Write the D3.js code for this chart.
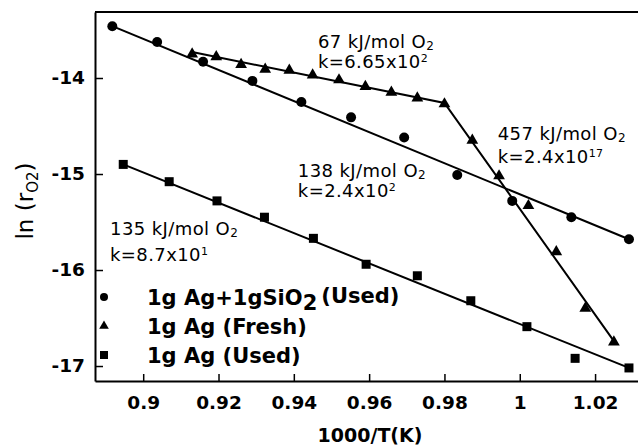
<!DOCTYPE html>
<html>
<head>
<meta charset="utf-8">
<script src="https://cdn.jsdelivr.net/npm/d3@7/dist/d3.min.js"></script>
<style>
  body { margin: 0; background: #fff; }
  svg { display: block; font-family: "DejaVu Sans", sans-serif; }
</style>
</head>
<body>
<svg id="chart" width="638" height="445"></svg>
<script>
// values
const xTicks = [0.9, 0.92, 0.94, 0.96, 0.98, 1, 1.02];
const yTicks = [-14, -15, -16, -17];

const sio2X = [0.8918, 0.9037, 0.9159, 0.929, 0.942, 0.9552, 0.9693, 0.9834, 0.998, 1.0137, 1.029];
const sio2Y = [-13.46, -13.625, -13.83, -14.03, -14.25, -14.41, -14.62, -15.01, -15.28, -15.45, -15.68];

const freshX = [0.913, 0.9194, 0.926, 0.9324, 0.9388, 0.945, 0.952, 0.959, 0.9659, 0.9728, 0.98,
  0.9874, 0.9945, 1.0023, 1.0097, 1.0174, 1.025];
const freshY = [-13.75, -13.78, -13.86, -13.91, -13.92, -13.97, -14.02, -14.09, -14.15, -14.21, -14.27,
  -14.65, -15.02, -15.33, -15.81, -16.40, -16.75];

const usedX = [0.8947, 0.9069, 0.9196, 0.9322, 0.9452, 0.9592, 0.9728, 0.987, 1.0019, 1.0147, 1.029];
const usedY = [-14.90, -15.08, -15.28, -15.45, -15.67, -15.94, -16.06, -16.32, -16.59, -16.92, -17.02];

// fitted lines (end points)
const sio2FitX = [0.8918, 1.029];
const sio2FitY = [-13.46, -15.68];
const freshFitX = [0.913, 0.98, 1.025];
const freshFitY = [-13.73, -14.26, -16.74];
const usedFitX = [0.8947, 1.029];
const usedFitY = [-14.90, -17.02];

const energyLabels = ["67 kJ/mol O", "457 kJ/mol O", "138 kJ/mol O", "135 kJ/mol O"];
const kMantissa = ["6.65", "2.4", "2.4", "8.7"];
const kExponent = ["2", "17", "2", "1"];
const labelX = [0.9464, 0.99416, 0.94107, 0.8912];
const labelY = [-13.6875, -14.646, -15.031, -15.635];

const legendNames = ["1g Ag+1gSiO", "1g Ag (Fresh)", "1g Ag (Used)"];

const svg = d3.select("#chart");

const x = d3.scaleLinear().domain([0.8872, 1.0314]).range([95, 638]);
const y = d3.scaleLinear().domain([-17.156, -13.3125]).range([381, 12]);

// frame
svg.append("line")
  .attr("x1", 95).attr("x2", 638).attr("y1", 12).attr("y2", 12)
  .attr("stroke", "#000").attr("stroke-width", 2);

const xAxis = svg.append("g")
  .attr("transform", "translate(0,381)")
  .call(d3.axisBottom(x).tickValues(xTicks).tickSize(-7).tickSizeOuter(0).tickPadding(15)
    .tickFormat(d => String(d)));

const yAxis = svg.append("g")
  .attr("transform", "translate(95,0)")
  .call(d3.axisLeft(y).tickValues(yTicks).tickSize(-8).tickSizeOuter(0).tickPadding(10)
    .tickFormat(d => String(d)));

[xAxis, yAxis].forEach(a => {
  a.select(".domain").attr("stroke-width", 2);
  a.selectAll(".tick line").attr("stroke-width", 1.5);
  a.selectAll("text")
    .attr("font-family", "DejaVu Sans")
    .attr("font-weight", "bold")
    .attr("font-size", 18.5)
    .attr("fill", "#000");
});

// axis titles
svg.append("text")
  .attr("x", 370).attr("y", 442)
  .attr("text-anchor", "middle")
  .attr("font-size", 19).attr("font-weight", "bold")
  .text("1000/T(K)");

const yl = svg.append("text")
  .attr("transform", "translate(33,201) rotate(-90)")
  .attr("text-anchor", "middle")
  .attr("font-size", 23);
yl.append("tspan").text("ln (r");
yl.append("tspan").attr("font-size", 15).attr("dy", 5).text("O2");
yl.append("tspan").attr("dy", -5).text(")");

// fit lines
const line = d3.line().x(d => x(d[0])).y(d => y(d[1]));
[[sio2FitX, sio2FitY], [freshFitX, freshFitY], [usedFitX, usedFitY]].forEach(([xs, ys]) => {
  svg.append("path")
    .datum(xs.map((v, i) => [v, ys[i]]))
    .attr("d", line)
    .attr("fill", "none")
    .attr("stroke", "#000")
    .attr("stroke-width", 2);
});

// markers
svg.selectAll(".sio2").data(sio2X).enter().append("circle")
  .attr("cx", d => x(d)).attr("cy", (d, i) => y(sio2Y[i]))
  .attr("r", 5).attr("fill", "#000");

const tri = d3.symbol().type(d3.symbolTriangle).size(60);
svg.selectAll(".fresh").data(freshX).enter().append("path")
  .attr("d", tri)
  .attr("transform", (d, i) => `translate(${x(d)},${y(freshY[i])})`)
  .attr("fill", "#000");

svg.selectAll(".used").data(usedX).enter().append("rect")
  .attr("x", d => x(d) - 4.5).attr("y", (d, i) => y(usedY[i]) - 4.5)
  .attr("width", 9).attr("height", 9).attr("fill", "#000");

// annotations
const lineGap = [20, 23, 20, 26];
energyLabels.forEach((lab, i) => {
  const t = svg.append("text")
    .attr("x", x(labelX[i])).attr("y", y(labelY[i]))
    .attr("font-size", 18).attr("letter-spacing", 0.4);
  t.append("tspan").text(lab);
  t.append("tspan").attr("font-size", 12).attr("dy", 2).text("2");

  const k = svg.append("text")
    .attr("x", x(labelX[i])).attr("y", y(labelY[i]) + lineGap[i])
    .attr("font-size", 18).attr("letter-spacing", 0.4);
  k.append("tspan").text("k=" + kMantissa[i] + "x10");
  k.append("tspan").attr("font-size", 11).attr("dy", -6).text(kExponent[i]);
});

// legend
const legendY = [305, 334, 363];
const lg = svg.append("g");
lg.append("circle").attr("cx", 104).attr("cy", legendY[0] - 8).attr("r", 4).attr("fill", "#000");
lg.append("path").attr("d", d3.symbol().type(d3.symbolTriangle).size(40))
  .attr("transform", `translate(104,${legendY[1] - 8})`).attr("fill", "#000");
lg.append("rect").attr("x", 100).attr("y", legendY[2] - 12).attr("width", 8).attr("height", 8).attr("fill", "#000");

legendNames.forEach((name, i) => {
  const t = lg.append("text")
    .attr("x", 147).attr("y", legendY[i])
    .attr("font-size", 21).attr("font-weight", "bold");
  t.append("tspan").text(name);
  if (i === 0) {
    t.append("tspan").attr("dy", 5).text("2");
    t.append("tspan").attr("dy", -7).attr("dx", 4).text("(Used)");
  }
});
</script>
</body>
</html>
